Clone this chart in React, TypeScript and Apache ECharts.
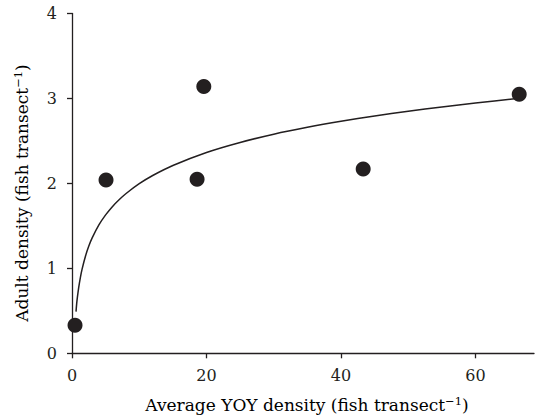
import React, { useEffect, useRef } from "react";
import * as echarts from "echarts";

const xTicks = [0, 20, 40, 60];
const yTicks = [0, 1, 2, 3, 4];

const obsX = [0.45, 5.06, 18.6, 19.6, 43.3, 66.5];
const obsY = [0.33, 2.04, 2.05, 3.14, 2.17, 3.05];

const fitX = [0.6, 0.7, 0.8, 1, 1.25, 1.5, 2, 2.5, 3, 4, 5, 6, 7, 8, 10, 12, 15, 20, 25, 30, 35, 40, 45, 50, 55, 60, 66.5];
const fitY = [0.49, 0.587, 0.658, 0.776, 0.894, 0.991, 1.143, 1.262, 1.358, 1.511, 1.629, 1.726, 1.807, 1.878, 1.996, 2.093, 2.211, 2.364, 2.482, 2.579, 2.66, 2.731, 2.794, 2.849, 2.9, 2.946, 3.001];

const FONT = "DejaVu Serif";
const INK = "#231f20";

export default function App() {
  const ref = useRef<HTMLDivElement>(null);
  useEffect(() => {
    if (!ref.current) return;
    const chart = echarts.init(ref.current, null, { renderer: "svg" });
    const richTitle = {
      a: { fontFamily: FONT, fontSize: 17, color: INK },
      sup: { fontFamily: FONT, fontSize: 11.5, color: INK, padding: [0, 0, 8, 0] },
    };
    chart.setOption({
      animation: false,
      textStyle: { fontFamily: FONT },
      grid: { left: 72, top: 13.5, right: 1, bottom: 65.7, containLabel: false },
      xAxis: {
        type: "value",
        min: 0,
        max: 68.7,
        interval: 20,
        splitLine: { show: false },
        axisLine: { show: true, lineStyle: { color: INK, width: 1.3 } },
        axisTick: { show: true, length: 5, lineStyle: { color: INK, width: 1.3 }, customValues: xTicks },
        axisLabel: { fontFamily: FONT, fontSize: 16, color: INK, margin: 14, customValues: xTicks },
      },
      yAxis: {
        type: "value",
        min: 0,
        max: 4,
        interval: 1,
        splitLine: { show: false },
        axisLine: { show: true, lineStyle: { color: INK, width: 1.3 } },
        axisTick: { show: true, length: 5, lineStyle: { color: INK, width: 1.3 }, customValues: yTicks },
        axisLabel: { fontFamily: FONT, fontSize: 16, color: INK, margin: 15, customValues: yTicks },
      },
      graphic: [
        {
          type: "text",
          x: 307,
          y: 405,
          style: {
            text: "{a|Average YOY density (fish transect}{sup|−1}{a|)}",
            rich: richTitle,
            fontFamily: FONT,
            align: "center",
            verticalAlign: "middle",
          },
        },
        {
          type: "text",
          x: 22,
          y: 193,
          rotation: Math.PI / 2,
          style: {
            text: "{a|Adult density (fish transect}{sup|−1}{a|)}",
            rich: richTitle,
            fontFamily: FONT,
            align: "center",
            verticalAlign: "middle",
          },
        },
      ],
      series: [
        {
          type: "line",
          data: fitX.map((x, i) => [x, fitY[i]]),
          showSymbol: false,
          smooth: 0.3,
          lineStyle: { color: INK, width: 1.5 },
          z: 1,
        },
        {
          type: "scatter",
          data: obsX.map((x, i) => [x, obsY[i]]),
          symbol: "circle",
          symbolSize: 15,
          itemStyle: { color: INK, opacity: 1 },
          z: 2,
        },
      ],
    });
    return () => chart.dispose();
  }, []);
  return <div ref={ref} style={{ width: 535, height: 419, position: "absolute", left: 0, top: 0 }} />;
}
